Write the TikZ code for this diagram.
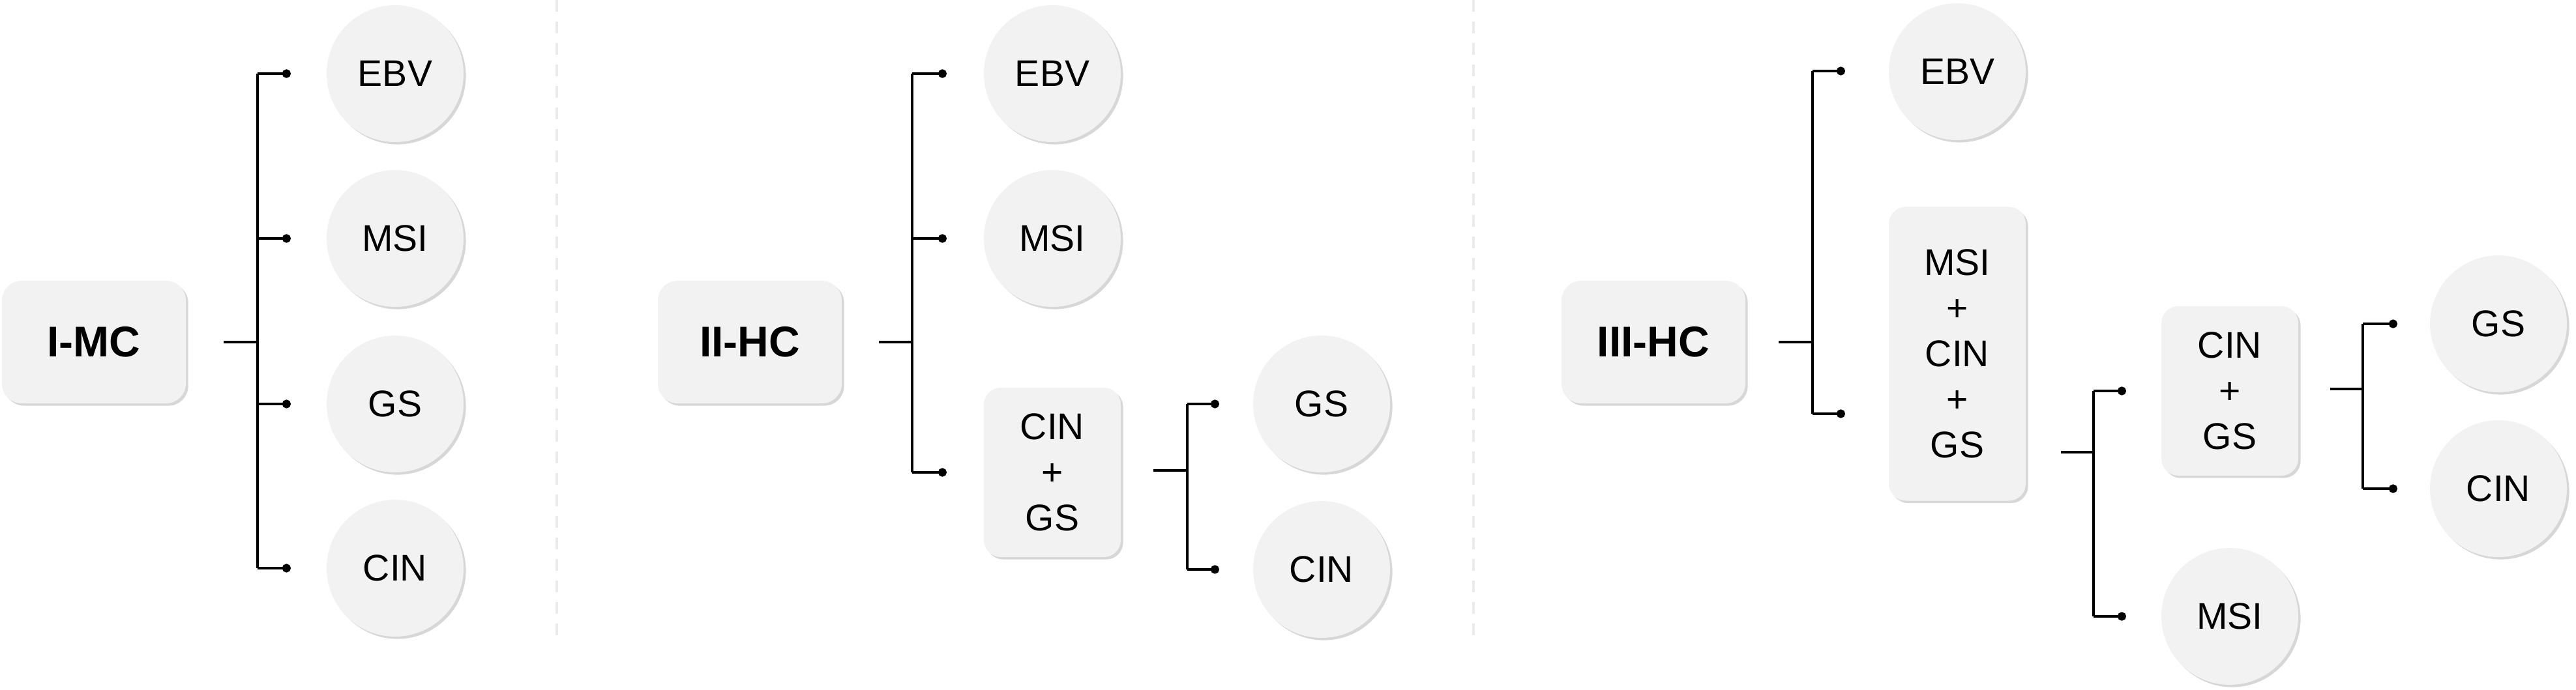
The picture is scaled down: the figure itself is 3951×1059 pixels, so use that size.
\documentclass[tikz,border=0pt]{standalone}
\usepackage{fontspec}
\setmainfont{Liberation Sans}
\usetikzlibrary{shadows,arrows.meta,calc}
\definecolor{boxgray}{HTML}{F2F2F2}
\definecolor{sepgray}{HTML}{EBEBEB}
\tikzset{
  softshadow/.style={drop shadow={shadow xshift=0.9pt,shadow yshift=-0.9pt,opacity=0.35,fill=black!45}},
  bubble/.style={circle,fill=boxgray,minimum size=52.5pt,inner sep=0pt,
    font=\fontsize{14.25}{17.5}\selectfont,softshadow},
  rootbox/.style={rounded corners=7.5pt,fill=boxgray,minimum width=70.5pt,minimum height=47pt,
    inner sep=0pt,font=\fontsize{16.5}{20}\selectfont\bfseries,softshadow},
  combobox/.style={rounded corners=6.5pt,fill=boxgray,minimum width=52.5pt,inner sep=0pt,
    align=center,font=\fontsize{14.25}{17.5}\selectfont,softshadow},
  wire/.style={line width=0.85pt,black},
  tipwire/.style={wire,-{Circle[length=3.3pt,width=3.3pt]}},
  sepline/.style={sepgray,line width=1.2pt,dash pattern=on 4.5pt off 3.75pt},
}
\begin{document}
\begin{tikzpicture}[x=0.25pt,y=-0.25pt]
\useasboundingbox (0,0) rectangle (3951,1059);

% separators
\coordinate (s1t) at (854,0); \coordinate (s1b) at (854,976);
\coordinate (s2t) at (2260,0); \coordinate (s2b) at (2260,976);
\draw[sepline] (s1t) -- (s1b);
\draw[sepline] (s2t) -- (s2b);

% ---------------- Panel I ----------------
\node[rootbox] (imc) at (144,525) {I-MC};
\node[bubble] (i-ebv) at (606,113) {EBV};
\node[bubble] (i-msi) at (606,366) {MSI};
\node[bubble] (i-gs)  at (606,620) {GS};
\node[bubble] (i-cin) at (606,872) {CIN};
\coordinate (i-s) at (343,525);
\coordinate (i-j) at (395,525);
\coordinate (i-t1) at (395,113); \coordinate (i-t4) at (395,872);
\coordinate (i-d1) at (446,113);
\coordinate (i-d2) at (446,366);
\coordinate (i-d3) at (446,620);
\coordinate (i-d4) at (446,872);
\draw[wire] (i-s) -- (i-j);
\draw[wire] (i-t1) -- (i-t4);
\draw[tipwire] (i-t1) -- (i-d1);
\draw[tipwire] (i-d2 -| i-j) -- (i-d2);
\draw[tipwire] (i-d3 -| i-j) -- (i-d3);
\draw[tipwire] (i-t4) -- (i-d4);

% ---------------- Panel II ----------------
\node[rootbox] (iihc) at (1150,525) {II-HC};
\node[bubble] (ii-ebv) at (1614,113) {EBV};
\node[bubble] (ii-msi) at (1614,366) {MSI};
\node[combobox,minimum height=65pt] (ii-cg) at (1614,725) {CIN\\+\\GS};
\node[bubble] (ii-gs)  at (2027,620) {GS};
\node[bubble] (ii-cin) at (2027,874) {CIN};
\coordinate (ii-s) at (1348,525);
\coordinate (ii-j) at (1399,525);
\coordinate (ii-t1) at (1399,113); \coordinate (ii-t3) at (1399,725);
\coordinate (ii-d1) at (1452,113);
\coordinate (ii-d2) at (1452,366);
\coordinate (ii-d3) at (1452,725);
\draw[wire] (ii-s) -- (ii-j);
\draw[wire] (ii-t1) -- (ii-t3);
\draw[tipwire] (ii-t1) -- (ii-d1);
\draw[tipwire] (ii-d2 -| ii-j) -- (ii-d2);
\draw[tipwire] (ii-t3) -- (ii-d3);
\coordinate (ii-s2) at (1769,722);
\coordinate (ii-j2) at (1821,722);
\coordinate (ii-u1) at (1821,620); \coordinate (ii-u2) at (1821,874);
\coordinate (ii-e1) at (1870,620);
\coordinate (ii-e2) at (1870,874);
\draw[wire] (ii-s2) -- (ii-j2);
\draw[wire] (ii-u1) -- (ii-u2);
\draw[tipwire] (ii-u1) -- (ii-e1);
\draw[tipwire] (ii-u2) -- (ii-e2);

% ---------------- Panel III ----------------
\node[rootbox] (iiihc) at (2536,525) {III-HC};
\node[bubble] (iii-ebv) at (3002,110) {EBV};
\node[combobox,minimum height=112.75pt] (iii-mcg) at (3002,543) {MSI\\+\\CIN\\+\\GS};
\node[combobox,minimum height=65pt] (iii-cg) at (3420,600) {CIN\\+\\GS};
\node[bubble] (iii-msi) at (3420,946) {MSI};
\node[bubble] (iii-gs)  at (3832,497) {GS};
\node[bubble] (iii-cin) at (3832,750) {CIN};
\coordinate (iii-s) at (2728,525);
\coordinate (iii-j) at (2780,525);
\coordinate (iii-t1) at (2780,109); \coordinate (iii-t2) at (2780,635);
\coordinate (iii-d1) at (2830,109);
\coordinate (iii-d2) at (2830,635);
\draw[wire] (iii-s) -- (iii-j);
\draw[wire] (iii-t1) -- (iii-t2);
\draw[tipwire] (iii-t1) -- (iii-d1);
\draw[tipwire] (iii-t2) -- (iii-d2);
\coordinate (iii-s2) at (3161,694);
\coordinate (iii-j2) at (3211,694);
\coordinate (iii-u1) at (3211,600); \coordinate (iii-u2) at (3211,946);
\coordinate (iii-e1) at (3261,600);
\coordinate (iii-e2) at (3261,946);
\draw[wire] (iii-s2) -- (iii-j2);
\draw[wire] (iii-u1) -- (iii-u2);
\draw[tipwire] (iii-u1) -- (iii-e1);
\draw[tipwire] (iii-u2) -- (iii-e2);
\coordinate (iii-s3) at (3574,597);
\coordinate (iii-j3) at (3624,597);
\coordinate (iii-v1) at (3624,497); \coordinate (iii-v2) at (3624,750);
\coordinate (iii-f1) at (3677,497);
\coordinate (iii-f2) at (3677,750);
\draw[wire] (iii-s3) -- (iii-j3);
\draw[wire] (iii-v1) -- (iii-v2);
\draw[tipwire] (iii-v1) -- (iii-f1);
\draw[tipwire] (iii-v2) -- (iii-f2);
\end{tikzpicture}
\end{document}
